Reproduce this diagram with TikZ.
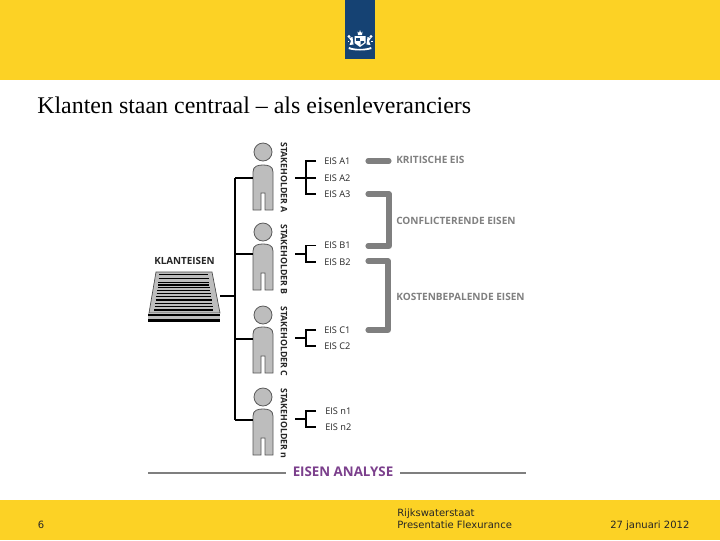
\documentclass[tikz,border=0pt]{standalone}
\usepackage{fontspec}
\setmainfont{Open Sans}
\newfontfamily\titlefont{Liberation Serif}
\newfontfamily\footfont{DejaVu Sans}
\definecolor{rwsyellow}{HTML}{FCD225}
\definecolor{rwsblue}{HTML}{154273}
\definecolor{bargray}{HTML}{7F7F7F}
\definecolor{persongray}{HTML}{BDBDBD}
\definecolor{labgray}{HTML}{808080}
\definecolor{anapurple}{HTML}{7B3F8C}
\tikzset{
  tree/.style={line width=.8pt,black},
  treethick/.style={line width=1.7pt,black},
  eislab/.style={anchor=west,inner sep=0pt,font=\fontsize{6.9}{8}\selectfont,text=black!85},
  stake/.style={anchor=west,inner sep=0pt,rotate=-90,font=\fontsize{6.6}{8}\selectfont\bfseries,text=black!85},
  graylab/.style={anchor=west,inner sep=0pt,font=\fontsize{7.55}{9}\selectfont\bfseries,text=labgray},
  graybar/.style={line width=3.8pt,bargray,line cap=round,line join=round},
  footlab/.style={anchor=base west,inner sep=0pt,font=\footfont\fontsize{7.5}{9}\selectfont,text=black!85},
  personbox/.style={minimum width=15pt,minimum height=35pt,inner sep=0pt},
  pfill/.style={fill=persongray,draw=black!65,line width=.6pt},
  stripe/.style={line width=.9pt,black},
}
\begin{document}
\begin{tikzpicture}[x=0.75pt,y=-0.75pt]
\useasboundingbox (0,0) rectangle (720,540);
\fill[white] (0,0) rectangle (720,540);
% header and footer
\fill[rwsyellow] (0,0) rectangle (720,80);
\fill[rwsyellow] (0,500) rectangle (720,540);
\fill[rwsblue] (345,0) rectangle (375,59);
% emblem
\begin{scope}[white]
  \fill (358,35) -- (357.5,31.5) -- (359,33) -- (360,30) -- (361,33) -- (362.5,31.5) -- (362,35) -- cycle;
  \fill (354.5,36) -- (365.5,36) -- (365.5,43) -- (360,47) -- (354.5,43) -- cycle;
  \fill[rwsblue] (356,37.5) rectangle (359.5,40.5);
  \fill[rwsblue] (360.5,41) -- (364,41) -- (364,42.5) -- (360.5,45) -- cycle;
  % lions
  \fill (349,36.5) circle (1.6);
  \fill (371,36.5) circle (1.6);
  \fill (349,38) -- (352.5,37) -- (353.5,44.5) -- (349.5,45) -- (351,41) -- cycle;
  \fill (371,38) -- (367.5,37) -- (366.5,44.5) -- (370.5,45) -- (369,41) -- cycle;
  \fill (347.5,41) rectangle (349,42);
  \fill (371,41) rectangle (372.5,42);
  % ribbon
  \fill (349,47) .. controls (354,49.5) and (366,49.5) .. (371,47) -- (371.5,49) .. controls (366,51) and (354,51) .. (348.5,49) -- cycle;
\end{scope}
% title
\node[anchor=base west,inner sep=0pt,font=\titlefont\fontsize{17.95}{21}\selectfont] (title) at (37,113.5) {Klanten staan centraal – als eisenleveranciers};
% footer text
\node[footlab] (fnum) at (37.5,528) {6};
\node[footlab] (fa) at (397,516) {Rijkswaterstaat};
\node[footlab] (fb) at (397,528) {Presentatie Flexurance};
\node[footlab] (fc) at (610,528) {27 januari 2012};
% persons
\foreach \n/\hy/\ty/\by in {A/152/165/210,B/232/244/290,C/315/327/373,n/397/409/455}{
  \fill[pfill] (263,\hy) circle (9);
  \filldraw[pfill] (253,\by) -- (253,{\ty+7}) .. controls (253,{\ty+1}) and (258,\ty) .. (263,\ty)
     .. controls (268,\ty) and (273,{\ty+1}) .. (273,{\ty+7}) -- (273,\by) -- (265,\by) -- (265,{\by-17}) -- (261,{\by-17}) -- (261,\by) -- cycle;
}
\node[personbox] (pA) at (263,178) {};
\node[personbox] (pB) at (263,254) {};
\node[personbox] (pC) at (263,339) {};
\node[personbox] (pn) at (263,420) {};
% stakeholder labels
\node[stake] (sA) at (284,142) {STAKEHOLDER A};
\node[stake] (sB) at (284,224) {STAKEHOLDER B};
\node[stake] (sC) at (284,306) {STAKEHOLDER C};
\node[stake] (sn) at (284,388) {STAKEHOLDER n};
% klanteisen stack
\node[inner sep=0pt,font=\fontsize{7.4}{9}\selectfont\bfseries,text=black!85,anchor=west] (kl) at (154,261) {KLANTEISEN};
\filldraw[fill=persongray,draw=black!70,line width=.5pt] (156,272) -- (212,272) -- (220,313) -- (149,313) -- cycle;
\foreach \yy/\xa/\xb in {274.5/159/208,278.5/158.5/208.5,282.5/158/209,285/158/209,287.5/157.5/209.5,290.5/157/210,293.5/156.5/210.5,296.5/156/211,300/155.5/211.5,303.5/155/212,306.5/154.5/212.5,310/154/213}{
  \draw[stripe] (\xa,\yy) -- (\xb,\yy);
}
\fill[persongray] (148,313) rectangle (220,320);
\draw[line width=.8pt,black] (148,315) -- (220,315);
\draw[line width=1.6pt,black] (148,320.5) -- (220,320.5);
\node[minimum width=54pt,minimum height=36pt,inner sep=0pt] (stack) at (185,296) {};
% tree
\coordinate (tt) at (235,178);
\coordinate (tb) at (235,420);
\coordinate (tk) at (235,296);
\coordinate (tB) at (235,254);
\coordinate (tC) at (235,339);
\draw[tree] (tt) -- (tb);
\draw[tree] (stack.east |- tk) ++(-1,0) -- (tk);
\draw[treethick] (tt) -- (pA.west);
\draw[treethick] (tB) -- (pB.west);
\draw[tree] (tC) -- (pC.west);
\draw[tree] (tb) -- (pn.west);
% requirement labels
\foreach \nm/\yy/\tx/\xx in {a1/161/EIS A1/324,a2/178/EIS A2/324,a3/194/EIS A3/324,b1/245.5/EIS B1/324,b2/262/EIS B2/324,c1/330/EIS C1/324,c2/346/EIS C2/324,n1/411/EIS n1/325,n2/427/EIS n2/325}{
  \node[eislab] (\nm) at (\xx,\yy) {\tx};
}
% requirement brackets
\coordinate (ja) at (306,178);
\coordinate (jb) at (306,254);
\coordinate (jc) at (306,338);
\coordinate (jn) at (306,419);
\coordinate (sa) at (295,178);
\coordinate (sb) at (295,254);
\coordinate (sc) at (295,338);
\coordinate (sm) at (295,419);
\draw[treethick] (sa) -- (a2.west -| 316,178);
\draw[treethick] (sb) -- (jb);
\draw[treethick] (sc) -- (jc);
\draw[tree] (sm) -- (jn);
\draw[tree] (316,161) -| (ja) |- (316,194);
\draw[tree] (316,245.5) -| (jb) |- (316,262);
\draw[tree] (316,330) -| (jc) |- (316,346);
\draw[treethick] (316,411) -| (jn);
\draw[tree] (jn) |- (316,427);
% gray bars
\node[graylab] (gk) at (396,160) {KRITISCHE EIS};
\node[graylab] (gc) at (396,220.5) {CONFLICTERENDE EISEN};
\node[graylab] (gb) at (396,297) {KOSTENBEPALENDE EISEN};
\draw[graybar] (368,161) -- (389,161);
\draw[graybar] (368,194) -- (389,194) -- (389,246) -- (368,246);
\draw[graybar] (368,261) -- (388,261) -- (388,330) -- (368,330);
% analyse
\node[inner sep=0pt,font=\fontsize{10}{12}\selectfont\bfseries,text=anapurple] (ana) at (343,472) {EISEN ANALYSE};
\coordinate (la) at (148,473);
\coordinate (lb) at (526,473);
\draw[line width=2pt,bargray] (la) -- (la -| 286,473);
\draw[line width=2pt,bargray] (400,473) -- (lb);
\end{tikzpicture}
\end{document}
